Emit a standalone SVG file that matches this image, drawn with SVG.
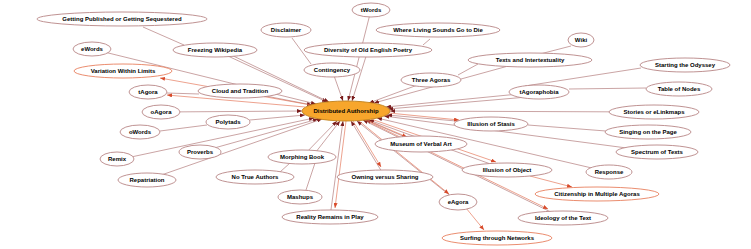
<svg xmlns="http://www.w3.org/2000/svg" width="751" height="249" viewBox="0 0 751 249">
<style>
.n ellipse{fill:#fff;stroke:#b88686;stroke-width:0.9}
.n.o ellipse{stroke:#e8805f}
.n text{font-family:"Liberation Sans",Arial,sans-serif;font-size:6px;font-weight:bold;fill:#000;text-anchor:middle}
.e line{stroke:#ad7272;stroke-width:0.65;fill:none}
.e line.in{marker-end:url(#ab)}
.e line.out{stroke:#e37050;marker-end:url(#ao)}
</style>
<defs>
<marker id="ab" markerWidth="5" markerHeight="4" refX="5" refY="2" orient="auto" markerUnits="userSpaceOnUse"><path d="M0,0 L5,2 L0,4 z" fill="#7a1c1c"/></marker>
<marker id="ao" markerWidth="5" markerHeight="4" refX="5" refY="2" orient="auto" markerUnits="userSpaceOnUse"><path d="M0,0 L5,2 L0,4 z" fill="#d84a2a"/></marker>
</defs>
<rect width="751" height="249" fill="#fff"/>
<g id="connectors" class="e">
<line x1="143" y1="27" x2="184" y2="45"/>
<line x1="430" y1="39" x2="423" y2="45"/>
<line x1="292" y1="38" x2="311" y2="64"/>
<line x1="571" y1="46" x2="540" y2="54"/>
<line x1="641" y1="68" x2="525" y2="86"/>
<line x1="569" y1="89" x2="646" y2="88"/>
<line x1="528" y1="125" x2="606" y2="131"/>
<line x1="160" y1="131" x2="207" y2="125"/>
<line x1="167" y1="93" x2="199" y2="94"/>
<line x1="280" y1="172" x2="290" y2="163"/>
<line x1="306" y1="190" x2="315" y2="163"/>
<line x1="478" y1="64" x2="458" y2="75"/>
<line class="in" x1="215" y1="50" x2="327" y2="102"/>
<line class="in" x1="225" y1="52" x2="329" y2="102"/>
<line class="in" x1="92" y1="49" x2="316" y2="104"/>
<line class="in" x1="240" y1="91" x2="312" y2="105"/>
<line class="in" x1="161" y1="112" x2="302" y2="111"/>
<line class="in" x1="228" y1="122" x2="305" y2="115"/>
<line class="in" x1="117" y1="160" x2="314" y2="118"/>
<line class="in" x1="200" y1="152" x2="318" y2="119"/>
<line class="in" x1="147" y1="180" x2="322" y2="119"/>
<line class="in" x1="302" y1="157" x2="337" y2="121"/>
<line class="in" x1="312" y1="157" x2="340" y2="121"/>
<line class="in" x1="332" y1="70" x2="343" y2="101"/>
<line class="in" x1="368" y1="50" x2="352" y2="101"/>
<line class="in" x1="371" y1="10" x2="348" y2="101"/>
<line class="in" x1="431" y1="80" x2="369" y2="103"/>
<line class="in" x1="530" y1="60" x2="374" y2="103"/>
<line class="in" x1="539" y1="92" x2="386" y2="107"/>
<line class="in" x1="539" y1="96" x2="388" y2="109"/>
<line class="in" x1="654" y1="112" x2="390" y2="111"/>
<line class="in" x1="657" y1="152" x2="384" y2="116"/>
<line class="in" x1="609" y1="172" x2="377" y2="118"/>
<line class="in" x1="421" y1="144" x2="366" y2="120"/>
<line class="in" x1="563" y1="218" x2="363" y2="120"/>
<line class="in" x1="458" y1="202" x2="357" y2="121"/>
<line class="in" x1="385" y1="177" x2="351" y2="121"/>
<line class="in" x1="330" y1="217" x2="343" y2="121"/>
<line class="in" x1="507" y1="170" x2="369" y2="120"/>
<line class="in" x1="491" y1="124" x2="387" y2="115"/>
<line class="out" x1="311" y1="105" x2="160" y2="78"/>
<line class="out" x1="305" y1="107" x2="167" y2="95"/>
<line class="out" x1="389" y1="113" x2="459" y2="120"/>
<line class="out" x1="367" y1="120" x2="407" y2="137"/>
<line class="out" x1="371" y1="119" x2="496" y2="162"/>
<line class="out" x1="353" y1="121" x2="381" y2="167"/>
<line class="out" x1="359" y1="121" x2="449" y2="194"/>
<line class="out" x1="346" y1="121" x2="335" y2="208"/>
<line class="out" x1="365" y1="120" x2="548" y2="209"/>
<line class="out" x1="466" y1="208" x2="484" y2="230"/>
<line class="out" x1="530" y1="176" x2="572" y2="187"/>
</g>
<g id="n-getting" class="n"><ellipse cx="122" cy="19" rx="85" ry="7"/><text x="122" y="21">Getting Published or Getting Sequestered</text></g>
<g id="n-freezing" class="n"><ellipse cx="215" cy="50" rx="42" ry="7"/><text x="215" y="52">Freezing Wikipedia</text></g>
<g id="n-ewords" class="n"><ellipse cx="92" cy="49" rx="19" ry="7"/><text x="92" y="51">eWords</text></g>
<g id="n-variation" class="n o"><ellipse cx="123" cy="71" rx="49" ry="7"/><text x="123" y="73">Variation Within Limits</text></g>
<g id="n-cloud" class="n"><ellipse cx="240" cy="91" rx="42" ry="7"/><text x="240" y="93">Cloud and Tradition</text></g>
<g id="n-tagora" class="n"><ellipse cx="148" cy="92" rx="19" ry="7"/><text x="148" y="94">tAgora</text></g>
<g id="n-oagora" class="n"><ellipse cx="161" cy="112" rx="19" ry="7"/><text x="161" y="114">oAgora</text></g>
<g id="n-polytads" class="n"><ellipse cx="228" cy="122" rx="22" ry="7"/><text x="228" y="124">Polytads</text></g>
<g id="n-owords" class="n"><ellipse cx="140" cy="132" rx="20" ry="7"/><text x="140" y="134">oWords</text></g>
<g id="n-proverbs" class="n"><ellipse cx="200" cy="152" rx="21" ry="7"/><text x="200" y="154">Proverbs</text></g>
<g id="n-remix" class="n"><ellipse cx="117" cy="159" rx="17" ry="7"/><text x="117" y="161">Remix</text></g>
<g id="n-repatriation" class="n"><ellipse cx="147" cy="180" rx="29" ry="7"/><text x="147" y="182">Repatriation</text></g>
<g id="n-notrue" class="n"><ellipse cx="255" cy="177" rx="39" ry="7"/><text x="255" y="179">No True Authors</text></g>
<g id="n-morphing" class="n"><ellipse cx="302" cy="157" rx="34" ry="7"/><text x="302" y="159">Morphing Book</text></g>
<g id="n-mashups" class="n"><ellipse cx="300" cy="197" rx="22" ry="7"/><text x="300" y="199">Mashups</text></g>
<g id="n-reality" class="n"><ellipse cx="330" cy="217" rx="48" ry="7"/><text x="330" y="219">Reality Remains in Play</text></g>
<g id="n-owning" class="n"><ellipse cx="385" cy="177" rx="48" ry="7"/><text x="385" y="179">Owning versus Sharing</text></g>
<g id="n-eagora" class="n"><ellipse cx="458" cy="202" rx="19" ry="8"/><text x="458" y="204">eAgora</text></g>
<g id="n-surfing" class="n o"><ellipse cx="497" cy="238" rx="55" ry="7"/><text x="497" y="240">Surfing through Networks</text></g>
<g id="n-museum" class="n"><ellipse cx="421" cy="144" rx="46" ry="8"/><text x="421" y="146">Museum of Verbal Art</text></g>
<g id="n-illobject" class="n"><ellipse cx="507" cy="170" rx="45" ry="7"/><text x="507" y="172">Illusion of Object</text></g>
<g id="n-citizenship" class="n o"><ellipse cx="597" cy="194" rx="62" ry="7"/><text x="597" y="196">Citizenship in Multiple Agoras</text></g>
<g id="n-ideology" class="n"><ellipse cx="563" cy="218" rx="45" ry="7"/><text x="563" y="220">Ideology of the Text</text></g>
<g id="n-response" class="n"><ellipse cx="609" cy="172" rx="23" ry="7"/><text x="609" y="174">Response</text></g>
<g id="n-spectrum" class="n"><ellipse cx="657" cy="152" rx="41" ry="7"/><text x="657" y="154">Spectrum of Texts</text></g>
<g id="n-singing" class="n"><ellipse cx="648" cy="132" rx="43" ry="7"/><text x="648" y="134">Singing on the Page</text></g>
<g id="n-stories" class="n"><ellipse cx="654" cy="112" rx="45" ry="7"/><text x="654" y="114">Stories or eLinkmaps</text></g>
<g id="n-table" class="n"><ellipse cx="679" cy="89" rx="33" ry="7"/><text x="679" y="91">Table of Nodes</text></g>
<g id="n-starting" class="n"><ellipse cx="685" cy="65" rx="45" ry="7"/><text x="685" y="67">Starting the Odyssey</text></g>
<g id="n-tagoraphobia" class="n"><ellipse cx="539" cy="92" rx="30" ry="7"/><text x="539" y="94">tAgoraphobia</text></g>
<g id="n-illstasis" class="n"><ellipse cx="491" cy="124" rx="37" ry="7"/><text x="491" y="126">Illusion of Stasis</text></g>
<g id="n-three" class="n"><ellipse cx="431" cy="80" rx="30" ry="7"/><text x="431" y="82">Three Agoras</text></g>
<g id="n-texts" class="n"><ellipse cx="530" cy="60" rx="62" ry="7"/><text x="530" y="62">Texts and Intertextuality</text></g>
<g id="n-wiki" class="n"><ellipse cx="581" cy="40" rx="13" ry="7"/><text x="581" y="42">Wiki</text></g>
<g id="n-where" class="n"><ellipse cx="438" cy="30" rx="62" ry="7"/><text x="438" y="32">Where Living Sounds Go to Die</text></g>
<g id="n-twords" class="n"><ellipse cx="371" cy="10" rx="19" ry="7"/><text x="371" y="12">tWords</text></g>
<g id="n-disclaimer" class="n"><ellipse cx="286" cy="30" rx="25" ry="7"/><text x="286" y="32">Disclaimer</text></g>
<g id="n-diversity" class="n"><ellipse cx="368" cy="50" rx="64" ry="7"/><text x="368" y="52">Diversity of Old English Poetry</text></g>
<g id="n-contingency" class="n"><ellipse cx="332" cy="70" rx="28" ry="7"/><text x="332" y="72">Contingency</text></g>
<g id="n-distributed" class="n"><ellipse cx="346" cy="111" rx="44" ry="10" style="fill:#f7a62c;stroke:#c0801a"/><text x="346" y="113">Distributed Authorship</text></g>
</svg>
